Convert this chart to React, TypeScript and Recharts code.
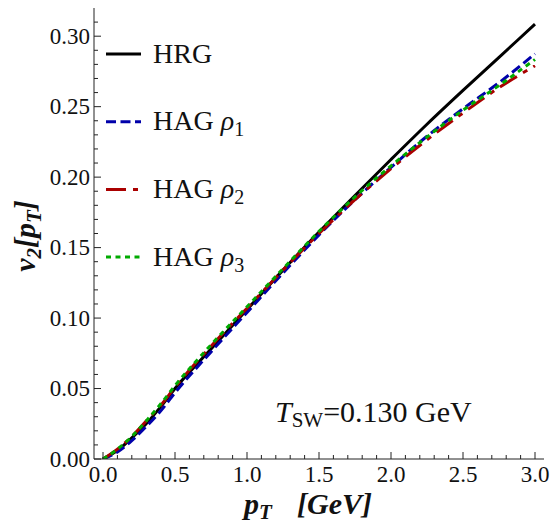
import React from "react";
import { LineChart, Line, XAxis, YAxis } from "recharts";

// pT grid (GeV) and v2 values
const pT = [0, 0.1, 0.2, 0.3, 0.4, 0.5, 0.75, 1.0, 1.25, 1.5, 1.75, 2.0, 2.25, 2.5, 2.75, 3.0];
const hrg = [0, 0.006, 0.015, 0.025, 0.037, 0.05, 0.078, 0.106, 0.134, 0.161, 0.187, 0.2125, 0.2375, 0.2615, 0.285, 0.3085];
const hagRho1 = [0, 0.005, 0.013, 0.023, 0.034, 0.047, 0.076, 0.104, 0.132, 0.159, 0.184, 0.207, 0.229, 0.2485, 0.267, 0.2875];
const hagRho2 = [0, 0.007, 0.016, 0.027, 0.038, 0.051, 0.08, 0.107, 0.134, 0.16, 0.184, 0.206, 0.2265, 0.2455, 0.2635, 0.279];
const hagRho3 = [0, 0.007, 0.016, 0.027, 0.039, 0.052, 0.081, 0.108, 0.135, 0.1615, 0.186, 0.208, 0.2285, 0.2475, 0.265, 0.2835];

const xMajor = [0, 0.5, 1, 1.5, 2, 2.5, 3];
const xTicks = [0, 0.1, 0.2, 0.3, 0.4, 0.5, 0.6, 0.7, 0.8, 0.9, 1, 1.1, 1.2, 1.3, 1.4, 1.5, 1.6, 1.7, 1.8, 1.9, 2, 2.1, 2.2, 2.3, 2.4, 2.5, 2.6, 2.7, 2.8, 2.9, 3];
const yMajor = [0, 0.05, 0.1, 0.15, 0.2, 0.25, 0.3];
const yTicks = [0, 0.01, 0.02, 0.03, 0.04, 0.05, 0.06, 0.07, 0.08, 0.09, 0.1, 0.11, 0.12, 0.13, 0.14, 0.15, 0.16, 0.17, 0.18, 0.19, 0.2, 0.21, 0.22, 0.23, 0.24, 0.25, 0.26, 0.27, 0.28, 0.29, 0.3, 0.31];

const series = [
  { key: "hrg", name: "HRG", sub: "", color: "#000000", dash: undefined as string | undefined },
  { key: "rho1", name: "HAG ", sub: "1", color: "#0000aa", dash: "10 4.5" },
  { key: "rho2", name: "HAG ", sub: "2", color: "#aa0000", dash: "20 7 5 7" },
  { key: "rho3", name: "HAG ", sub: "3", color: "#00aa00", dash: "5 4.5" },
];

const data = pT.map((p, i) => ({
  pT: p,
  hrg: hrg[i],
  rho1: hagRho1[i],
  rho2: hagRho2[i],
  rho3: hagRho3[i],
}));

const FONT = "Liberation Serif, DejaVu Serif, serif";
const AXIS = "#222";
const serif = { fontFamily: FONT };

const isMajor = (v: number, list: number[]) => list.some((m) => Math.abs(m - v) < 1e-6);

const BottomTick = (props: any) => {
  const { x, y, payload } = props;
  const major = isMajor(payload.value, xMajor);
  return (
    <g>
      <line x1={x} y1={y} x2={x} y2={y - (major ? 7 : 4)} stroke={AXIS} />
      {major && (
        <text x={x} y={y + 23} textAnchor="middle" fontFamily={FONT} style={serif} fontSize={23} fill="#111">
          {payload.value.toFixed(1)}
        </text>
      )}
    </g>
  );
};

const TopTick = (props: any) => {
  const { x, y, payload } = props;
  const major = isMajor(payload.value, xMajor);
  return <line x1={x} y1={y} x2={x} y2={y + (major ? 7 : 4)} stroke={AXIS} />;
};

const LeftTick = (props: any) => {
  const { x, y, payload } = props;
  const major = isMajor(payload.value, yMajor);
  return (
    <g>
      <line x1={x} y1={y} x2={x + (major ? 7 : 4)} y2={y} stroke={AXIS} />
      {major && (
        <text x={x - 4} y={y + 7.5} textAnchor="end" fontFamily={FONT} style={serif} fontSize={23} fill="#111">
          {payload.value.toFixed(2)}
        </text>
      )}
    </g>
  );
};

const RightTick = (props: any) => {
  const { x, y, payload } = props;
  const major = isMajor(payload.value, yMajor);
  return <line x1={x} y1={y} x2={x - (major ? 7 : 4)} y2={y} stroke={AXIS} />;
};

export default function App() {
  return (
    <div style={{ position: "absolute", left: 0, top: 0, width: 551, height: 525, background: "#fff" }}>
      <LineChart width={551} height={525} data={data} margin={{ top: 8, right: 7, left: 0, bottom: 0 }}>
        <XAxis
          dataKey="pT"
          type="number"
          domain={[-0.0625, 3.0625]}
          ticks={xTicks}
          interval={0}
          height={66}
          tickSize={0}
          tickMargin={0}
          tick={<BottomTick />}
          axisLine={{ stroke: AXIS }}
          allowDataOverflow
        />
        <XAxis
          xAxisId="top"
          orientation="top"
          type="number"
          domain={[-0.0625, 3.0625]}
          ticks={xTicks}
          interval={0}
          height={0}
          tickSize={0}
          tickMargin={0}
          tick={<TopTick />}
          axisLine={{ stroke: AXIS }}
          allowDataOverflow
        />
        <YAxis
          type="number"
          domain={[0, 0.32]}
          ticks={yTicks}
          interval={0}
          width={94}
          tickSize={0}
          tickMargin={0}
          tick={<LeftTick />}
          axisLine={{ stroke: AXIS }}
          allowDataOverflow
        />
        <YAxis
          yAxisId="right"
          orientation="right"
          type="number"
          domain={[0, 0.32]}
          ticks={yTicks}
          interval={0}
          width={0}
          tickSize={0}
          tickMargin={0}
          tick={<RightTick />}
          axisLine={{ stroke: AXIS }}
          allowDataOverflow
        />
        {series.map((s) => (
          <Line
            key={s.key}
            type="monotone"
            dataKey={s.key}
            stroke={s.color}
            strokeWidth={3}
            strokeDasharray={s.dash}
            dot={false}
            activeDot={false}
            isAnimationActive={false}
          />
        ))}
      </LineChart>

      {/* legend, labels and annotation drawn on top */}
      <svg
        width={551}
        height={525}
        style={{ position: "absolute", left: 0, top: 0, pointerEvents: "none", fontFamily: FONT }}
      >
        {series.map((s, i) => {
          const ly = 54 + i * 67.7;
          return (
            <g key={s.key}>
              <line x1={106} x2={141} y1={ly} y2={ly} stroke={s.color} strokeWidth={3} strokeDasharray={s.dash} />
              <text x={153} y={ly + 8.5} fontSize={28} fill="#111">
                {s.name}
                {s.sub && <tspan fontStyle="italic">ρ</tspan>}
                {s.sub && (
                  <tspan fontSize={20} dy={6}>
                    {s.sub}
                  </tspan>
                )}
              </text>
            </g>
          );
        })}

        <text x={275} y={422} fontSize={30} fill="#111">
          <tspan fontStyle="italic">T</tspan>
          <tspan fontSize={21} dy={5}>SW</tspan>
          <tspan dy={-5}>=0.130 GeV</tspan>
        </text>

        <text y={514} fontSize={30} fontWeight="bold" fontStyle="italic" fill="#111">
          <tspan x={244}>p</tspan>
          <tspan fontSize={21} dy={5}>T</tspan>
          <tspan x={297} dy={-5}>[GeV]</tspan>
        </text>

        <text
          x={-236}
          y={35}
          transform="rotate(-90)"
          textAnchor="middle"
          fontSize={30}
          fontWeight="bold"
          fontStyle="italic"
          fill="#111"
        >
          v
          <tspan fontSize={21} dy={6}>2</tspan>
          <tspan dy={-6}>[p</tspan>
          <tspan fontSize={21} dy={6}>T</tspan>
          <tspan dy={-6}>]</tspan>
        </text>
      </svg>
    </div>
  );
}
